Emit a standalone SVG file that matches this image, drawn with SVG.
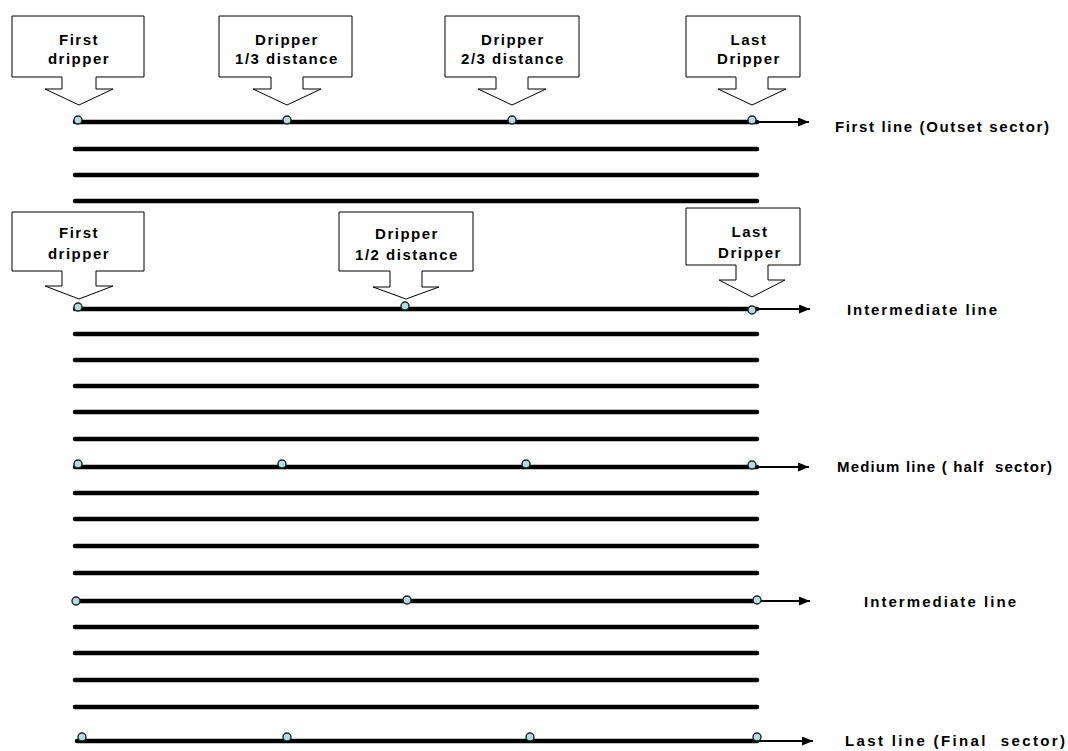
<svg xmlns="http://www.w3.org/2000/svg" width="1068" height="751" viewBox="0 0 1068 751">
<style>
.ln{stroke:#000;stroke-width:4.5;stroke-linecap:round;fill:none}
.ar{stroke:#000;stroke-width:2;fill:none}
.dot{fill:#b3dde0;stroke:#222;stroke-width:1.4}
.box{fill:#fff;stroke:#000;stroke-width:1}
.t{font-family:"Liberation Sans",Arial,sans-serif;font-weight:bold;font-size:15px;letter-spacing:1.5px;fill:#000}
.l{font-family:"Liberation Sans",Arial,sans-serif;font-weight:bold;font-size:15px;fill:#000}
.c{text-anchor:middle}
</style>
<defs>
<marker id="ah" viewBox="0 0 11 9" refX="11" refY="4.5" markerWidth="11" markerHeight="9" markerUnits="userSpaceOnUse" orient="auto">
<path d="M0,0 L11,4.5 L0,9 Z" fill="#000"/>
</marker>
</defs>
<g id="connectors">
<line class="ln" x1="75" y1="122" x2="757" y2="122"/>
<line class="ar" x1="757" y1="122" x2="809" y2="122" marker-end="url(#ah)"/>
<line class="ln" x1="75" y1="149" x2="757" y2="149"/>
<line class="ln" x1="75" y1="175" x2="757" y2="175"/>
<line class="ln" x1="75" y1="201" x2="757" y2="201"/>
<line class="ln" x1="75" y1="309" x2="757" y2="309"/>
<line class="ar" x1="757" y1="309" x2="810" y2="309" marker-end="url(#ah)"/>
<line class="ln" x1="75" y1="334" x2="757" y2="334"/>
<line class="ln" x1="75" y1="360" x2="757" y2="360"/>
<line class="ln" x1="75" y1="386" x2="757" y2="386"/>
<line class="ln" x1="75" y1="412" x2="757" y2="412"/>
<line class="ln" x1="75" y1="439" x2="757" y2="439"/>
<line class="ln" x1="75" y1="467" x2="757" y2="467"/>
<line class="ar" x1="757" y1="467" x2="809" y2="467" marker-end="url(#ah)"/>
<line class="ln" x1="75" y1="493" x2="757" y2="493"/>
<line class="ln" x1="75" y1="519" x2="757" y2="519"/>
<line class="ln" x1="75" y1="546" x2="757" y2="546"/>
<line class="ln" x1="75" y1="573" x2="757" y2="573"/>
<line class="ln" x1="75" y1="601" x2="757" y2="601"/>
<line class="ar" x1="757" y1="601" x2="810" y2="601" marker-end="url(#ah)"/>
<line class="ln" x1="75" y1="627" x2="757" y2="627"/>
<line class="ln" x1="75" y1="653" x2="757" y2="653"/>
<line class="ln" x1="75" y1="680" x2="757" y2="680"/>
<line class="ln" x1="75" y1="707" x2="757" y2="707"/>
<line class="ln" x1="77" y1="741" x2="757" y2="741"/>
<line class="ar" x1="757" y1="741" x2="813" y2="741" marker-end="url(#ah)"/>
</g>
<g id="drippers">
<circle class="dot" cx="78" cy="120" r="4"/>
<circle class="dot" cx="287" cy="120" r="4"/>
<circle class="dot" cx="512" cy="120" r="4"/>
<circle class="dot" cx="752" cy="120" r="4"/>
<circle class="dot" cx="78" cy="307" r="4"/>
<circle class="dot" cx="405" cy="306" r="4"/>
<circle class="dot" cx="752" cy="310" r="4"/>
<circle class="dot" cx="78" cy="464" r="4"/>
<circle class="dot" cx="282" cy="464" r="4"/>
<circle class="dot" cx="526" cy="464" r="4"/>
<circle class="dot" cx="752" cy="465" r="4"/>
<circle class="dot" cx="76" cy="601" r="4"/>
<circle class="dot" cx="407" cy="600" r="4"/>
<circle class="dot" cx="757" cy="600" r="4"/>
<circle class="dot" cx="82" cy="737" r="4"/>
<circle class="dot" cx="287" cy="737" r="4"/>
<circle class="dot" cx="530" cy="737" r="4"/>
<circle class="dot" cx="757" cy="737" r="4"/>
</g>
<g id="callout-first-1">
<path class="box" d="M12 16 H144 V77 H96 V89 H113 L79 105 L45 89 H62 V77 H12 Z"/>
<text class="t c" x="79" y="45">First</text>
<text class="t c" x="79" y="64">dripper</text>
</g>
<g id="callout-third">
<path class="box" d="M219 16 H352 V77 H303 V89 H321 L287 105 L253 89 H271 V77 H219 Z"/>
<text class="t c" x="287" y="45">Dripper</text>
<text class="t c" x="287" y="64">1/3 distance</text>
</g>
<g id="callout-twothirds">
<path class="box" d="M445 16 H579 V77 H528 V89 H546 L512 105 L478 89 H496 V77 H445 Z"/>
<text class="t c" x="513" y="45">Dripper</text>
<text class="t c" x="513" y="64">2/3 distance</text>
</g>
<g id="callout-last-1">
<path class="box" d="M686 16 H800 V77 H768 V89 H786 L752 105 L718 89 H736 V77 H686 Z"/>
<text class="t c" x="749" y="45">Last</text>
<text class="t c" x="749" y="64">Dripper</text>
</g>
<g id="callout-first-2">
<path class="box" d="M12 212 H144 V271 H96 V286 H113 L79 299 L45 286 H62 V271 H12 Z"/>
<text class="t c" x="79" y="238">First</text>
<text class="t c" x="79" y="259">dripper</text>
</g>
<g id="callout-half">
<path class="box" d="M339 212 H473 V271 H422 V287 H439 L406 299 L373 287 H390 V271 H339 Z"/>
<text class="t c" x="407" y="239">Dripper</text>
<text class="t c" x="407" y="260">1/2 distance</text>
</g>
<g id="callout-last-2">
<path class="box" d="M686 208 H800 V265 H768 V280 H785 L752 297 L719 280 H736 V265 H686 Z"/>
<text class="t c" x="750" y="237">Last</text>
<text class="t c" x="750" y="258">Dripper</text>
</g>
<g id="labels">
<text class="l" x="835" y="132" textLength="214" lengthAdjust="spacing">First line (Outset sector)</text>
<text class="l" x="847" y="315" textLength="150" lengthAdjust="spacing">Intermediate line</text>
<text class="l" x="837" y="472" textLength="215" lengthAdjust="spacing" style="white-space:pre">Medium line ( half  sector)</text>
<text class="l" x="864" y="607" textLength="152" lengthAdjust="spacing">Intermediate line</text>
<text class="l" x="845" y="746" textLength="220" lengthAdjust="spacing" style="white-space:pre">Last line (Final  sector)</text>
</g>
</svg>
